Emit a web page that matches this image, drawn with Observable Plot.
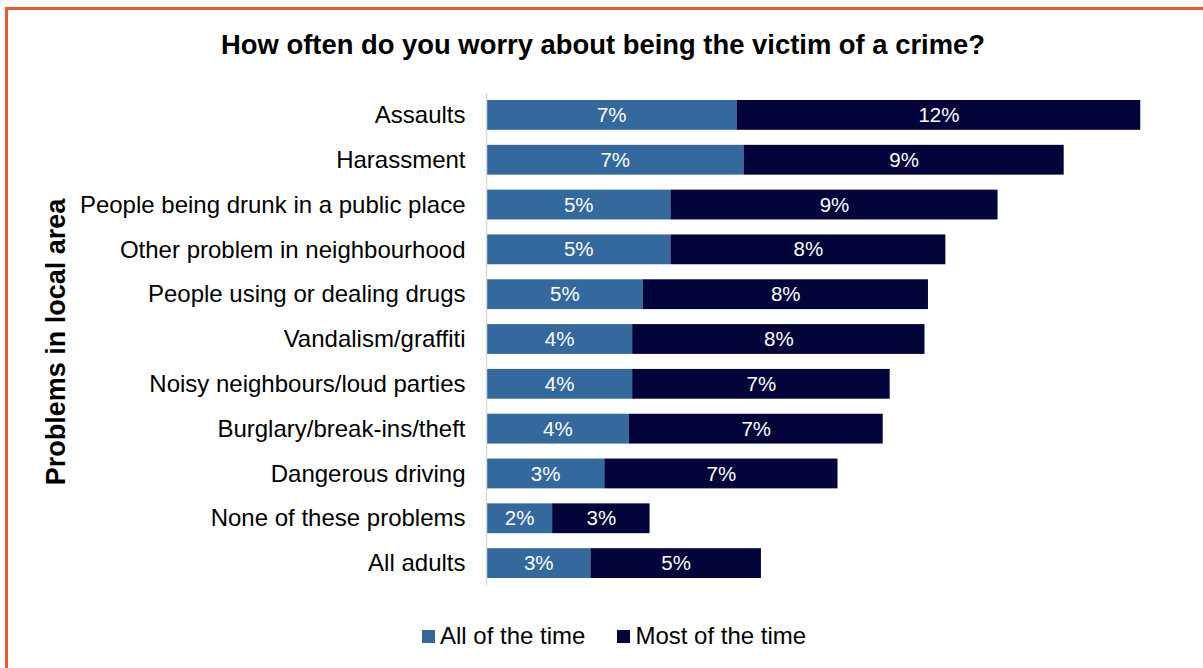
<!DOCTYPE html>
<html>
<head>
<meta charset="utf-8">
<script src="https://cdn.jsdelivr.net/npm/d3@7"></script>
<script src="https://cdn.jsdelivr.net/npm/@observablehq/plot@0.6"></script>
<style>
  html, body { margin: 0; padding: 0; background: #fff; }
  body { width: 1203px; height: 668px; overflow: hidden; position: relative; font-family: "Liberation Sans", Arial, sans-serif; }
  #frame { position: absolute; left: 5px; top: 7px; width: 1300px; height: 800px; border-left: 3px solid #ee5b2a; border-top: 3px solid #ee5b2a; }
  #title { position: absolute; left: 0; top: 31px; width: 1206px; text-align: center; font-weight: bold; font-size: 27.4px; line-height: 27px; color: #000; white-space: nowrap; }
  #ytitle { position: absolute; left: 56px; top: 342px; transform: translate(-50%, -50%) rotate(-90deg); font-weight: bold; font-size: 27px; line-height: 30px; white-space: nowrap; color: #000; }
  #chart { position: absolute; left: 0; top: 80px; }
  #legend { position: absolute; left: 422px; top: 624px; display: flex; align-items: center; font-size: 24px; line-height: 24px; color: #000; white-space: nowrap; }
  #legend .item { display: flex; align-items: center; margin-right: 32px; }
  #legend .sw { width: 13px; height: 13px; margin-right: 5px; }
</style>
</head>
<body>
<div id="frame"></div>
<div id="title">How often do you worry about being the victim of a crime?</div>
<div id="ytitle">Problems in local area</div>
<div id="chart"></div>
<div id="legend"></div>
<script>
// Data (percent of adults)
const categories = [
  "Assaults",
  "Harassment",
  "People being drunk in a public place",
  "Other problem in neighbourhood",
  "People using or dealing drugs",
  "Vandalism/graffiti",
  "Noisy neighbours/loud parties",
  "Burglary/break-ins/theft",
  "Dangerous driving",
  "None of these problems",
  "All adults"
];
const seriesNames = ["All of the time", "Most of the time"];
const allOfTheTime  = [7.2, 7.4, 5.3, 5.3, 4.5, 4.2, 4.2, 4.1, 3.4, 1.9, 3.0];
const mostOfTheTime = [11.6, 9.2, 9.4, 7.9, 8.2, 8.4, 7.4, 7.3, 6.7, 2.8, 4.9];
const seriesColors = ["#34699e", "#02043a"];

const rows = categories.flatMap((c, i) => [
  {category: c, series: seriesNames[0], value: allOfTheTime[i]},
  {category: c, series: seriesNames[1], value: mostOfTheTime[i]}
]);

const chart = Plot.plot({
  width: 1203,
  height: 520,
  marginLeft: 486,
  marginRight: 21,
  marginTop: 13,
  marginBottom: 15,
  style: {fontFamily: "'Liberation Sans', Arial, sans-serif", background: "transparent", color: "#000", overflow: "visible"},
  x: {domain: [0, 20], axis: null},
  y: {domain: categories, range: [5, 513], padding: 0.3348, round: false},
  color: {domain: seriesNames, range: seriesColors},
  marks: [
    Plot.barX(rows, Plot.stackX({x: "value", y: "category", fill: "series"})),
    Plot.text(rows, Plot.stackX({
      x: "value", y: "category", z: "series",
      text: d => Math.round(d.value) + "%",
      fill: "white", fontSize: 20.5
    })),
    Plot.axisY({tickSize: 0, tickPadding: 21, fontSize: 24, fill: "#000", label: null}),
    Plot.ruleX([0], {stroke: "#d9d9d9", strokeWidth: 1.5})
  ]
});
document.getElementById("chart").appendChild(chart);

const legend = document.getElementById("legend");
seriesNames.forEach((name, i) => {
  const item = document.createElement("div");
  item.className = "item";
  const sw = document.createElement("div");
  sw.className = "sw";
  sw.style.background = seriesColors[i];
  const label = document.createElement("span");
  label.textContent = name;
  item.appendChild(sw);
  item.appendChild(label);
  legend.appendChild(item);
});
</script>
</body>
</html>
